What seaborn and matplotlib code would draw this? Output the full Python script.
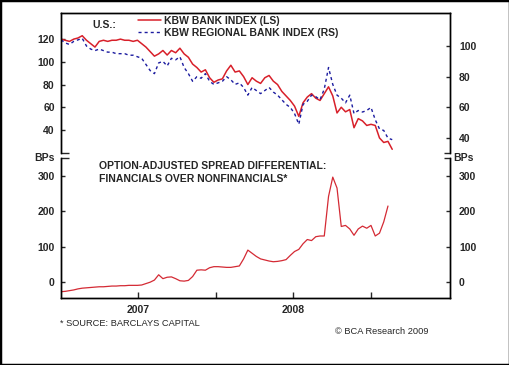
import pandas as pd
import matplotlib
matplotlib.use('Agg')
import matplotlib.pyplot as plt
import seaborn as sns
from matplotlib.patches import Rectangle

# values, one point every 10 days from 2007-01-01
kbw_bank = [120, 119, 118, 120, 121, 123, 119, 116, 113, 118,
            119, 118, 119, 119, 120, 119, 119, 118, 119, 116,
            113, 109, 105, 107, 110, 106, 110, 108, 112, 107,
            104, 98, 95, 91, 93, 86, 82, 84, 85, 92,
            97, 91, 92, 87, 80, 86, 83, 81, 86, 88,
            83, 80, 74, 70, 66, 61, 52, 64, 69, 72,
            68, 66, 72, 78, 70, 55, 60, 56, 58, 42,
            50, 48, 44, 45, 44, 33, 29, 30, 23]
kbw_regional = [104, 102, 101, 103, 104, 105, 100, 98, 97, 98,
                97, 96, 96, 95, 95, 95, 94, 94, 93, 92,
                88, 84, 82, 89, 90, 87, 92, 91, 93, 86,
                82, 77, 80, 79, 82, 77, 75, 76, 77, 80,
                78, 75, 76, 73, 68, 73, 71, 69, 71, 73,
                70, 68, 65, 62, 60, 56, 49, 62, 64, 68,
                67, 65, 72, 86, 75, 68, 66, 63, 68, 56,
                58, 57, 58, 60, 52, 46, 45, 40, 39]
oas_diff = [-28, -27, -25, -23, -20, -18, -17, -16, -15, -14,
            -14, -13, -12, -12, -11, -11, -10, -10, -10, -9,
            -5, -1, 5, 20, 9, 13, 14, 9, 3, 2,
            4, 15, 33, 34, 33, 40, 43, 43, 42, 41,
            41, 43, 45, 65, 90, 81, 72, 65, 62, 59,
            57, 58, 60, 63, 75, 86, 92, 108, 120, 117,
            128, 130, 130, 242, 297, 266, 157, 160, 150, 132,
            150, 158, 152, 160, 130, 138, 170, 215]

left_ticks = [40, 60, 80, 100, 120]
right_ticks = [40, 60, 80, 100]
bps_ticks = [0, 100, 200, 300]
year_labels = ['2007', '', '2008', '']
year_ticks = ['2007-07-01', '2008-01-01', '2008-07-01', '2009-01-01']

sns.set_style('white')
plt.rcParams['font.family'] = ['Liberation Sans', 'DejaVu Sans']

red = '#d8202a'
blue = '#1c1ca0'

dates_top = pd.date_range('2007-01-01', periods=len(kbw_bank), freq='10D')
dates_bot = pd.date_range('2007-01-01', periods=len(oas_diff), freq='10D')
top = pd.DataFrame({'date': dates_top, 'bank': kbw_bank, 'regional': kbw_regional})
bot = pd.DataFrame({'date': dates_bot, 'oas': oas_diff})

fig = plt.figure(figsize=(5.1, 3.65), dpi=100)
ax1 = fig.add_axes([0.1196, 0.5816, 0.7627, 0.3828])
ax1r = ax1.twinx()
ax2 = fig.add_axes([0.1196, 0.1844, 0.7627, 0.3835])
ax2r = ax2.twinx()

x0, x1 = pd.Timestamp('2007-01-01'), pd.Timestamp('2009-07-05')

sns.lineplot(data=top, x='date', y='bank', ax=ax1, color=red, lw=1.1,
             label='KBW BANK INDEX (LS)', legend=False)
sns.lineplot(data=top, x='date', y='regional', ax=ax1r, color=blue, lw=1.0,
             dashes=False, label='KBW REGIONAL BANK INDEX (RS)', legend=False)
ax1r.lines[0].set_dashes((2.2, 2.2))
sns.lineplot(data=bot, x='date', y='oas', ax=ax2, color='#d42a34', lw=0.9, legend=False)

tick_font = dict(fontsize=7.5, fontweight='bold')

for a in (ax1, ax1r, ax2, ax2r):
    a.set_xlim(x0, x1)
    a.set_xlabel('')
    a.set_ylabel('')
    for s in a.spines.values():
        s.set_color('black')
        s.set_linewidth(1.0)

# top panel
ax1.set_ylim(20, 143)
ax1r.set_ylim(30.5, 121.5)
ax1.set_yticks(left_ticks)
ax1.set_yticklabels([str(t) for t in left_ticks], **tick_font)
ax1.set_yticks([20], minor=True)
ax1r.set_yticks(right_ticks)
ax1r.set_yticklabels([str(t) for t in right_ticks], **tick_font)
ax1r.set_yticks([30.5], minor=True)
for a in (ax1, ax1r):
    a.spines['bottom'].set_visible(False)
    a.tick_params(axis='x', bottom=False, labelbottom=False)
ax1.tick_params(axis='y', direction='in', length=3, width=1, pad=4.5, left=True, right=False)
ax1.tick_params(axis='y', which='minor', direction='in', length=6, width=1, left=True)
ax1r.tick_params(axis='y', direction='in', length=3, width=1, pad=6.5, right=True)
ax1r.tick_params(axis='y', which='minor', direction='in', length=4, width=1, right=True)

# bottom panel
for a in (ax2, ax2r):
    a.set_ylim(-45, 352)
    a.spines['top'].set_visible(False)
    a.set_yticks(bps_ticks)
    a.set_yticks([352], minor=True)
ax2.set_yticklabels([str(t) for t in bps_ticks], **tick_font)
ax2r.set_yticklabels([str(t) for t in bps_ticks], **tick_font)
ax2.tick_params(axis='y', direction='in', length=3, width=1, pad=4.5, left=True, right=False)
ax2.tick_params(axis='y', which='minor', direction='in', length=6, width=1, left=True)
ax2r.tick_params(axis='y', direction='in', length=3, width=1, pad=6.5, right=True)
ax2r.tick_params(axis='y', which='minor', direction='in', length=4, width=1, right=True)
ax2.set_xticks([pd.Timestamp(t) for t in year_ticks])
ax2.set_xticklabels(year_labels, **tick_font)
ax2.tick_params(axis='x', direction='in', length=4.5, width=1, pad=5, bottom=True)
ax2r.tick_params(axis='x', bottom=False, labelbottom=False)

# legend and labels
handles = ax1.get_lines()[:1] + ax1r.get_lines()[:1]
fig.legend(handles, ['KBW BANK INDEX (LS)', 'KBW REGIONAL BANK INDEX (RS)'],
           loc='upper left', bbox_to_anchor=(138 / 510, 1 - 16 / 365), frameon=False,
           prop=dict(size=7.5, weight='bold'), handlelength=2.2, handletextpad=0.3,
           labelspacing=0.15, borderpad=0, borderaxespad=0)
fig.text(92 / 510, 1 - 25 / 365, 'U.S.:', fontsize=7.5, fontweight='bold', va='center')
fig.text(99 / 510, 1 - 166 / 365, 'OPTION-ADJUSTED SPREAD DIFFERENTIAL:', fontsize=7.5,
         fontweight='bold', va='center')
fig.text(99 / 510, 1 - 179 / 365, 'FINANCIALS OVER NONFINANCIALS*', fontsize=7.5,
         fontweight='bold', va='center')
fig.text(55 / 510, 1 - 158 / 365, 'BPs', fontsize=7.5, fontweight='bold', va='center', ha='right')
fig.text(453 / 510, 1 - 158 / 365, 'BPs', fontsize=7.5, fontweight='bold', va='center')
fig.text(60 / 510, 1 - 323 / 365, '* SOURCE: BARCLAYS CAPITAL', fontsize=6.7, va='center')
fig.text(335 / 510, 1 - 332 / 365, '\u00a9 BCA Research 2009', fontsize=6.7, va='center')

fig.add_artist(Rectangle((0, 0), 1, 1, transform=fig.transFigure, fill=False,
                         lw=2.5, ec='black'))

fig.savefig('out.png', dpi=100)
